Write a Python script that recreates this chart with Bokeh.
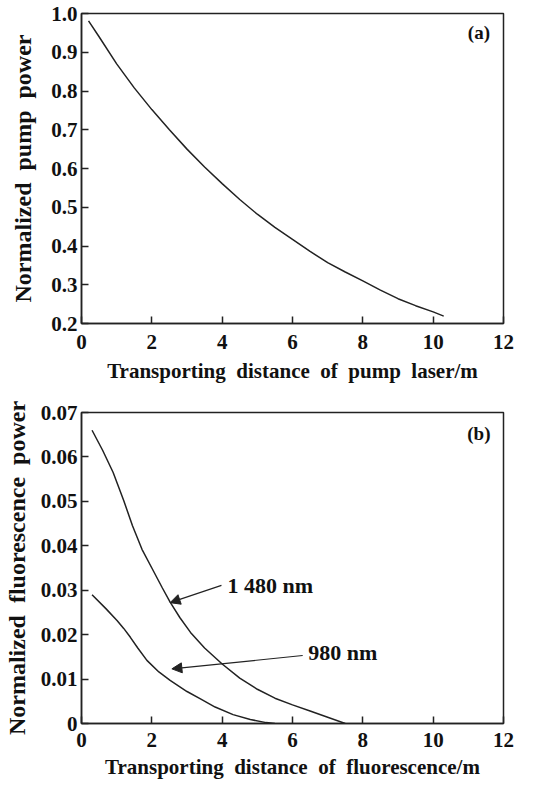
from bokeh.plotting import figure
from bokeh.layouts import column
from bokeh.models import FixedTicker, Range1d, Arrow, NormalHead, Label
from bokeh.embed import file_html
from bokeh.resources import INLINE

# ---- data (a) ----
pump_x = [0.2, 0.5, 1.0, 1.5, 2.0, 2.5, 3.0, 3.5, 4.0, 4.5, 5.0, 5.5, 6.0, 6.5, 7.0, 7.5,
          8.0, 8.5, 9.0, 9.5, 10.0, 10.3]
pump_y = [0.981, 0.940, 0.870, 0.808, 0.752, 0.700, 0.650, 0.604, 0.561, 0.520, 0.482, 0.448,
          0.417, 0.386, 0.357, 0.333, 0.310, 0.286, 0.264, 0.246, 0.230, 0.219]

# ---- data (b) ----
f1480_x = [0.3, 0.6, 0.9, 1.2, 1.45, 1.72, 2.0, 2.3, 2.52, 2.8, 3.1, 3.5, 4.0, 4.5, 5.0,
           5.5, 6.0, 6.5, 7.0, 7.5]
f1480_y = [0.0660, 0.0615, 0.0565, 0.0502, 0.0445, 0.0392, 0.0350, 0.0305, 0.0273, 0.0238,
           0.0205, 0.0170, 0.0134, 0.0102, 0.0077, 0.0057, 0.0042, 0.0028, 0.0014, 0.0]
f980_x = [0.3, 0.7, 1.01, 1.2, 1.39, 1.6, 1.86, 2.2, 2.52, 3.0, 3.37, 3.8, 4.31, 4.8, 5.25, 5.5]
f980_y = [0.0290, 0.0258, 0.0232, 0.0214, 0.0194, 0.0170, 0.0142, 0.0116, 0.0097, 0.0072,
          0.0056, 0.0037, 0.0020, 0.0009, 0.0002, 0.0]

x_ticks = [0, 2, 4, 6, 8, 10, 12]
ya_ticks = [0.2, 0.3, 0.4, 0.5, 0.6, 0.7, 0.8, 0.9, 1.0]
ya_labels = ["0.2", "0.3", "0.4", "0.5", "0.6", "0.7", "0.8", "0.9", "1.0"]
yb_ticks = [0.0, 0.01, 0.02, 0.03, 0.04, 0.05, 0.06, 0.07]
yb_labels = ["0", "0.01", "0.02", "0.03", "0.04", "0.05", "0.06", "0.07"]

# annotation anchors (data units)
ann_1480 = dict(text="1 480 nm", tx=4.15, ty=0.0311, x0=3.98, y0=0.0311, x1=2.52, y1=0.0272)
ann_980 = dict(text="980 nm", tx=6.45, ty=0.0160, x0=6.29, y0=0.0153, x1=2.57, y1=0.0123)

FONT = "Liberation Serif"
INK = "#222222"
SP = "\u2002"


def style(p, xlabel, ylabel, yticks, ylabels, lab_standoff, title_standoff, ytitle_standoff):
    p.outline_line_color = INK
    p.outline_line_width = 1.5
    p.xgrid.visible = False
    p.ygrid.visible = False
    for ax in (p.xaxis[0], p.yaxis[0]):
        ax.axis_line_color = INK
        ax.axis_line_width = 1.5
        ax.major_tick_line_color = INK
        ax.major_tick_line_width = 1.5
        ax.major_tick_in = 7
        ax.major_tick_out = 0
        ax.minor_tick_line_color = None
        ax.major_label_text_font = FONT
        ax.major_label_text_font_style = "bold"
        ax.major_label_text_font_size = "21px"
        ax.major_label_text_color = "#111111"
        ax.axis_label_text_font = FONT
        ax.axis_label_text_font_style = "bold"
        ax.axis_label_text_color = "#111111"
    p.xaxis[0].axis_label_text_font_size = "21px"
    p.yaxis[0].axis_label_text_font_size = "24px"
    p.xaxis[0].ticker = FixedTicker(ticks=x_ticks)
    p.yaxis[0].ticker = FixedTicker(ticks=yticks)
    p.yaxis[0].major_label_overrides = {t: l for t, l in zip(yticks, ylabels)}
    p.xaxis[0].axis_label = xlabel
    p.yaxis[0].axis_label = ylabel
    p.xaxis[0].major_label_standoff = lab_standoff
    p.yaxis[0].major_label_standoff = 4
    p.xaxis[0].axis_label_standoff = title_standoff
    p.yaxis[0].axis_label_standoff = ytitle_standoff


W = 549
pa = figure(width=W, height=392, output_backend="svg", toolbar_location=None,
            x_range=Range1d(0, 12), y_range=Range1d(0.2, 1.0),
            min_border_left=81, min_border_right=46, min_border_top=13, min_border_bottom=69)
style(pa, SP.join(["Transporting", "distance", "of", "pump", "laser/m"]),
      SP.join(["Normalized", "pump", "power"]), ya_ticks, ya_labels, 11, 7, 12)
pa.line(pump_x, pump_y, line_color=INK, line_width=1.5)
pa.add_layout(Label(x=11.3, y=0.951, text="(a)", text_font=FONT, text_font_style="bold",
                    text_font_size="19px", text_align="center", text_baseline="middle",
                    text_color="#111111"))

pb = figure(width=W, height=395, output_backend="svg", toolbar_location=None,
            x_range=Range1d(0, 12), y_range=Range1d(0, 0.07),
            min_border_left=81, min_border_right=44, min_border_top=20, min_border_bottom=64)
style(pb, SP.join(["Transporting", "distance", "of", "fluorescence/m"]),
      SP.join(["Normalized", "fluorescence", "power"]), yb_ticks, yb_labels, 9, 5, 8)
pb.line(f1480_x, f1480_y, line_color=INK, line_width=1.5)
pb.line(f980_x, f980_y, line_color=INK, line_width=1.5)
for a in (ann_1480, ann_980):
    pb.add_layout(Arrow(end=NormalHead(size=10, fill_color=INK, line_color=INK),
                        x_start=a["x0"], y_start=a["y0"], x_end=a["x1"], y_end=a["y1"],
                        line_color=INK, line_width=1.2))
    pb.add_layout(Label(x=a["tx"], y=a["ty"], text=a["text"], text_font=FONT,
                        text_font_style="bold", text_font_size="22px",
                        text_align="left", text_baseline="middle", text_color="#111111"))
pb.add_layout(Label(x=11.3, y=0.0653, text="(b)", text_font=FONT, text_font_style="bold",
                    text_font_size="19px", text_align="center", text_baseline="middle",
                    text_color="#111111"))

layout = column(pa, pb, spacing=0)
open("out.html", "w").write(file_html(layout, INLINE))
